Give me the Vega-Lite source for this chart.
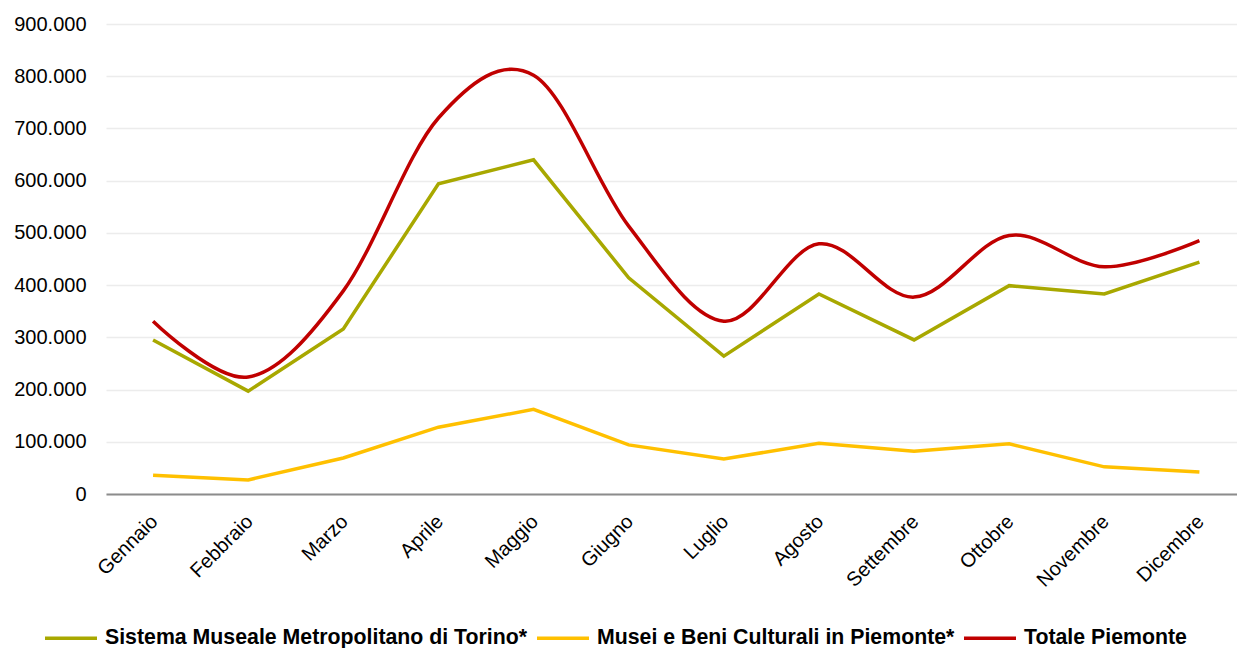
{
  "$schema": "https://vega.github.io/schema/vega-lite/v6.json",
  "width": 1131,
  "height": 470,
  "autosize": {"type": "none"},
  "padding": {"left": 106, "top": 24, "right": 0, "bottom": 154},
  "background": "white",
  "config": {
    "locale": {"number": {"decimal": ",", "thousands": ".", "grouping": [3], "currency": ["€", ""]}},
    "view": {"stroke": null},
    "font": "Liberation Sans"
  },
  "data": {
    "values": [
      {"mese": "Gennaio", "serie": "Sistema Museale Metropolitano di Torino*", "valore": 295000},
      {"mese": "Febbraio", "serie": "Sistema Museale Metropolitano di Torino*", "valore": 197000},
      {"mese": "Marzo", "serie": "Sistema Museale Metropolitano di Torino*", "valore": 316000},
      {"mese": "Aprile", "serie": "Sistema Museale Metropolitano di Torino*", "valore": 594000},
      {"mese": "Maggio", "serie": "Sistema Museale Metropolitano di Torino*", "valore": 640000},
      {"mese": "Giugno", "serie": "Sistema Museale Metropolitano di Torino*", "valore": 414000},
      {"mese": "Luglio", "serie": "Sistema Museale Metropolitano di Torino*", "valore": 264000},
      {"mese": "Agosto", "serie": "Sistema Museale Metropolitano di Torino*", "valore": 383000},
      {"mese": "Settembre", "serie": "Sistema Museale Metropolitano di Torino*", "valore": 295000},
      {"mese": "Ottobre", "serie": "Sistema Museale Metropolitano di Torino*", "valore": 399000},
      {"mese": "Novembre", "serie": "Sistema Museale Metropolitano di Torino*", "valore": 383000},
      {"mese": "Dicembre", "serie": "Sistema Museale Metropolitano di Torino*", "valore": 444000},
      {"mese": "Gennaio", "serie": "Musei e Beni Culturali in Piemonte*", "valore": 36000},
      {"mese": "Febbraio", "serie": "Musei e Beni Culturali in Piemonte*", "valore": 27000},
      {"mese": "Marzo", "serie": "Musei e Beni Culturali in Piemonte*", "valore": 69000},
      {"mese": "Aprile", "serie": "Musei e Beni Culturali in Piemonte*", "valore": 128000},
      {"mese": "Maggio", "serie": "Musei e Beni Culturali in Piemonte*", "valore": 162000},
      {"mese": "Giugno", "serie": "Musei e Beni Culturali in Piemonte*", "valore": 94000},
      {"mese": "Luglio", "serie": "Musei e Beni Culturali in Piemonte*", "valore": 67000},
      {"mese": "Agosto", "serie": "Musei e Beni Culturali in Piemonte*", "valore": 97000},
      {"mese": "Settembre", "serie": "Musei e Beni Culturali in Piemonte*", "valore": 82000},
      {"mese": "Ottobre", "serie": "Musei e Beni Culturali in Piemonte*", "valore": 96000},
      {"mese": "Novembre", "serie": "Musei e Beni Culturali in Piemonte*", "valore": 52000},
      {"mese": "Dicembre", "serie": "Musei e Beni Culturali in Piemonte*", "valore": 42000},
      {"mese": "Gennaio", "serie": "Totale Piemonte", "valore": 331000},
      {"mese": "Febbraio", "serie": "Totale Piemonte", "valore": 224000},
      {"mese": "Marzo", "serie": "Totale Piemonte", "valore": 389000},
      {"mese": "Aprile", "serie": "Totale Piemonte", "valore": 720000},
      {"mese": "Maggio", "serie": "Totale Piemonte", "valore": 802000},
      {"mese": "Giugno", "serie": "Totale Piemonte", "valore": 513000},
      {"mese": "Luglio", "serie": "Totale Piemonte", "valore": 331000},
      {"mese": "Agosto", "serie": "Totale Piemonte", "valore": 479000},
      {"mese": "Settembre", "serie": "Totale Piemonte", "valore": 377000},
      {"mese": "Ottobre", "serie": "Totale Piemonte", "valore": 495000},
      {"mese": "Novembre", "serie": "Totale Piemonte", "valore": 435000},
      {"mese": "Dicembre", "serie": "Totale Piemonte", "valore": 485000}
    ]
  },
  "encoding": {
    "x": {
      "field": "mese",
      "type": "ordinal",
      "sort": ["Gennaio", "Febbraio", "Marzo", "Aprile", "Maggio", "Giugno", "Luglio", "Agosto", "Settembre", "Ottobre", "Novembre", "Dicembre"],
      "title": null,
      "scale": {"padding": 0.445, "align": 0.556},
      "axis": {
        "labelAngle": -45,
        "labelFontSize": 20,
        "labelColor": "#000000",
        "labelPadding": 17,
        "labelOffset": -6,
        "ticks": false,
        "domainColor": "#8c8c8c",
        "domainWidth": 2,
        "grid": false
      }
    },
    "y": {
      "field": "valore",
      "type": "quantitative",
      "scale": {"domain": [0, 900000]},
      "title": null,
      "axis": {
        "values": [0, 100000, 200000, 300000, 400000, 500000, 600000, 700000, 800000, 900000],
        "format": ",d",
        "labelFontSize": 20,
        "labelColor": "#000000",
        "labelPadding": 20,
        "ticks": false,
        "domain": false,
        "grid": true,
        "gridColor": "#ececec",
        "gridWidth": 1.5
      }
    },
    "color": {
      "field": "serie",
      "type": "nominal",
      "scale": {
        "domain": ["Sistema Museale Metropolitano di Torino*", "Musei e Beni Culturali in Piemonte*", "Totale Piemonte"],
        "range": ["#A8A800", "#FFC000", "#C00000"]
      },
      "legend": {
        "title": null,
        "orient": "none",
        "direction": "horizontal",
        "legendX": -63,
        "legendY": 586,
        "symbolType": "stroke",
        "symbolSize": 2704,
        "symbolStrokeWidth": 3.5,
        "labelFontSize": 21.3,
        "labelFontWeight": "bold",
        "labelColor": "#000000",
        "labelLimit": 800,
        "labelOffset": 6,
        "columnPadding": 2,
        "padding": 0
      }
    }
  },
  "layer": [
    {
      "transform": [{"filter": "datum.serie != 'Totale Piemonte'"}],
      "mark": {"type": "line", "strokeWidth": 3.5}
    },
    {
      "transform": [{"filter": "datum.serie == 'Totale Piemonte'"}],
      "mark": {"type": "line", "strokeWidth": 3.5, "interpolate": "cardinal"}
    }
  ]
}
